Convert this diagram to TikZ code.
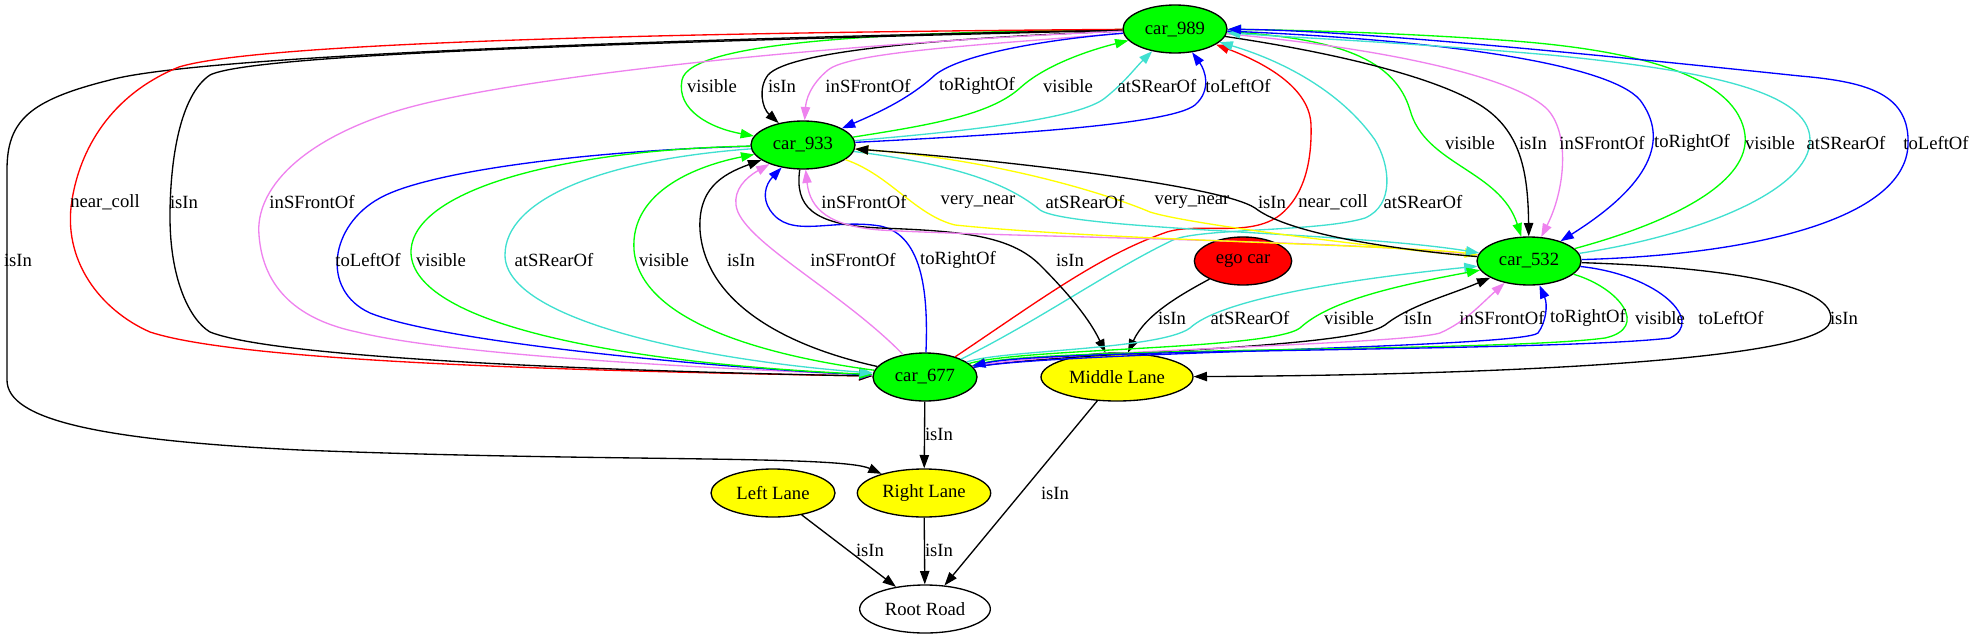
\documentclass[tikz,border=0pt]{standalone}
\usepackage{fontspec}
\setmainfont{Liberation Serif}
\usetikzlibrary{shapes.geometric,arrows.meta}

\definecolor{gvgreen}{RGB}{0,255,0}
\definecolor{gvviolet}{RGB}{238,130,238}
\definecolor{gvturq}{RGB}{64,224,208}
\definecolor{gvblue}{RGB}{0,0,255}
\definecolor{gvred}{RGB}{255,0,0}
\definecolor{gvyellow}{RGB}{255,255,0}

\tikzset{every picture/.style={line width=0.75pt}}
\tikzset{
  gvnode/.style={ellipse, draw=black, line width=1pt, minimum height=36pt, inner sep=0pt, font=\fontsize{14}{16}\selectfont},
  carnode/.style={gvnode, fill=gvgreen, minimum width=78pt},
  lanenode/.style={gvnode, fill=gvyellow},
  rel/.style={line width=1pt, -{Triangle[length=10pt,width=7pt]}},
  isInE/.style={rel, color=black},
  visE/.style={rel, color=gvgreen},
  frontE/.style={rel, color=gvviolet},
  rearE/.style={rel, color=gvturq},
  rightE/.style={rel, color=gvblue},
  leftE/.style={rel, color=gvblue},
  collE/.style={rel, color=gvred},
  nearE/.style={rel, color=gvyellow},
  lbl/.style={inner sep=0pt, font=\fontsize{14}{16}\selectfont}
}

\begin{document}
\begin{tikzpicture}[x=0.75pt,y=0.75pt,yscale=-1]
\useasboundingbox (0,0) rectangle (1976,639);

%Flowchart: Connector
\node [carnode] (c989) at (1175,29) {car\_989};
%Flowchart: Connector
\node [carnode] (c933) at (803,145) {car\_933};
%Flowchart: Connector
\node [carnode] (c532) at (1529,261) {car\_532};
%Flowchart: Connector
\node [gvnode, fill=gvred, minimum width=73pt] (ego) at (1243,261) {ego car};
%Flowchart: Connector
\node [carnode] (c677) at (925,377) {car\_677};
%Flowchart: Connector
\node [lanenode, minimum width=114pt] (mid) at (1117,377) {Middle Lane};
%Flowchart: Connector
\node [lanenode, minimum width=93pt] (lleft) at (773,493) {Left Lane};
%Flowchart: Connector
\node [lanenode, minimum width=100pt] (lright) at (924,493) {Right Lane};
%Flowchart: Connector
\node [gvnode, fill=white, minimum width=98pt] (root) at (925,609) {Root Road};

%Curve Lines
\draw [visE] (c989) .. controls (900,32) and (690,40) .. (682,80) .. controls (676,110) and (710,128) .. (c933);
%Curve Lines
\draw [isInE] (c989) .. controls (950,38) and (790,50) .. (768,75) .. controls (758,88) and (762,108) .. (c933);
%Curve Lines
\draw [frontE] (c989) .. controls (980,45) and (850,52) .. (828,70) .. controls (810,85) and (806,100) .. (c933);
%Curve Lines
\draw [rightE] (c989) .. controls (1040,40) and (960,55) .. (935,75) .. controls (910,98) and (880,112) .. (c933);
%Curve Lines
\draw [visE] (c933) .. controls (930,125) and (990,115) .. (1020,88) .. controls (1045,65) and (1090,50) .. (c989);
%Curve Lines
\draw [rearE] (c933) .. controls (980,130) and (1080,118) .. (1105,98) .. controls (1125,82) and (1135,68) .. (c989);
%Curve Lines
\draw [leftE] (c933) .. controls (1000,135) and (1170,125) .. (1195,105) .. controls (1212,90) and (1205,70) .. (c989);

%Curve Lines
\draw [visE] (c989) .. controls (1340,38) and (1395,60) .. (1410,110) .. controls (1425,165) and (1500,170) .. (c532);
%Curve Lines
\draw [isInE] (c989) .. controls (1350,55) and (1440,80) .. (1480,105) .. controls (1520,130) and (1528,170) .. (c532);
%Curve Lines
\draw [frontE] (c989) .. controls (1400,50) and (1520,80) .. (1548,110) .. controls (1570,135) and (1565,190) .. (c532);
%Curve Lines
\draw [rightE] (c989) .. controls (1450,40) and (1610,65) .. (1640,100) .. controls (1670,140) and (1650,185) .. (c532);
%Curve Lines
\draw [visE] (c532) .. controls (1680,220) and (1750,180) .. (1745,135) .. controls (1738,80) and (1650,50) .. (1500,40) .. controls (1400,33) and (1300,30) .. (c989);
%Curve Lines
\draw [rearE] (c532) .. controls (1700,235) and (1810,190) .. (1810,140) .. controls (1810,90) and (1700,70) .. (1550,55) .. controls (1400,42) and (1300,38) .. (c989);
%Curve Lines
\draw [leftE] (c532) .. controls (1750,255) and (1905,220) .. (1908,145) .. controls (1910,95) and (1870,82) .. (1800,76) .. controls (1600,55) and (1350,30) .. (c989);

%Curve Lines
\draw [collE] (c677) .. controls (1040,300) and (1100,255) .. (1167,232) .. controls (1200,222) and (1250,238) .. (1280,215) .. controls (1305,195) and (1312,160) .. (1311,125) .. controls (1310,90) and (1270,65) .. (c989);
%Curve Lines
\draw [rearE] (c677) .. controls (1040,320) and (1110,270) .. (1173,240) .. controls (1200,228) and (1320,232) .. (1365,218) .. controls (1395,205) and (1390,165) .. (1375,140) .. controls (1340,90) and (1280,60) .. (c989);

%Curve Lines
\draw [isInE] (c989) .. controls (700,38) and (200,55) .. (110,80) .. controls (30,100) and (7,120) .. (7,170) -- (7,380) .. controls (7,420) and (100,440) .. (300,450) .. controls (600,462) and (840,455) .. (lright);
%Curve Lines
\draw [collE] (c989) .. controls (600,33) and (250,45) .. (179,67) .. controls (110,95) and (80,150) .. (72,200) .. controls (62,260) and (100,310) .. (150,332) .. controls (250,365) and (650,372) .. (c677);
%Curve Lines
\draw [isInE] (c989) .. controls (600,43) and (250,55) .. (210,75) .. controls (180,95) and (170,160) .. (170,217) .. controls (170,280) and (190,320) .. (210,332) .. controls (280,360) and (650,372) .. (c677);
%Curve Lines
\draw [frontE] (c989) .. controls (800,45) and (500,80) .. (400,110) .. controls (300,140) and (255,190) .. (259,235) .. controls (263,290) and (300,320) .. (357,332) .. controls (450,355) and (700,368) .. (c677);

%Curve Lines
\draw [leftE] (c933) .. controls (600,150) and (430,170) .. (380,198) .. controls (330,225) and (320,290) .. (370,313) .. controls (450,345) and (750,370) .. (c677);
%Curve Lines
\draw [visE] (c933) .. controls (560,150) and (415,190) .. (411,250) .. controls (408,320) and (600,362) .. (c677);
%Curve Lines
\draw [rearE] (c933) .. controls (600,160) and (505,200) .. (505,255) .. controls (505,320) and (700,360) .. (c677);
%Curve Lines
\draw [visE] (c677) .. controls (760,355) and (640,320) .. (634,250) .. controls (630,190) and (700,165) .. (c933);
%Curve Lines
\draw [isInE] (c677) .. controls (780,345) and (705,300) .. (700,230) .. controls (698,190) and (720,175) .. (c933);
%Curve Lines
\draw [frontE] (c677) .. controls (840,290) and (740,240) .. (736,205) .. controls (734,190) and (745,178) .. (c933);
%Curve Lines
\draw [rightE] (c677) .. controls (928,300) and (925,235) .. (880,226) .. controls (830,218) and (790,240) .. (770,210) .. controls (762,198) and (765,185) .. (c933);

%Curve Lines
\draw [isInE] (c933) .. controls (795,205) and (810,225) .. (880,228) .. controls (960,231) and (1010,235) .. (1040,265) .. controls (1070,295) and (1090,320) .. (mid);
%Curve Lines
\draw [frontE] (c532) .. controls (1350,240) and (1000,237) .. (880,230) .. controls (830,226) and (810,210) .. (c933);
%Curve Lines
\draw [nearE] (c933) .. controls (890,175) and (915,215) .. (955,225) .. controls (1100,240) and (1400,245) .. (c532);
%Curve Lines
\draw [rearE] (c933) .. controls (960,165) and (1010,185) .. (1040,210) .. controls (1070,230) and (1350,232) .. (c532);
%Curve Lines
\draw [nearE] (c532) .. controls (1400,250) and (1190,225) .. (1150,212) .. controls (1110,195) and (1000,160) .. (c933);
%Curve Lines
\draw [isInE] (c532) .. controls (1400,250) and (1290,235) .. (1255,208) .. controls (1220,185) and (1000,160) .. (c933);

%Curve Lines
\draw [isInE] (ego) .. controls (1180,295) and (1145,315) .. (mid);

%Curve Lines
\draw [rearE] (c677) .. controls (1000,350) and (1160,350) .. (1190,328) .. controls (1220,300) and (1340,280) .. (c532);
%Curve Lines
\draw [visE] (c677) .. controls (1020,348) and (1270,350) .. (1300,328) .. controls (1330,300) and (1400,285) .. (c532);
%Curve Lines
\draw [isInE] (c677) .. controls (1050,352) and (1350,350) .. (1385,325) .. controls (1410,305) and (1450,295) .. (c532);
%Curve Lines
\draw [frontE] (c677) .. controls (1050,350) and (1400,345) .. (1440,333) .. controls (1465,322) and (1480,305) .. (c532);
%Curve Lines
\draw [rightE] (c677) .. controls (1050,352) and (1520,348) .. (1538,333) .. controls (1546,322) and (1548,305) .. (c532);
%Curve Lines
\draw [visE] (c532) .. controls (1620,288) and (1650,328) .. (1605,338) .. controls (1500,352) and (1050,347) .. (c677);
%Curve Lines
\draw [leftE] (c532) .. controls (1660,275) and (1705,322) .. (1670,338) .. controls (1550,352) and (1050,348) .. (c677);
%Curve Lines
\draw [isInE] (c532) .. controls (1750,268) and (1840,290) .. (1830,322) .. controls (1820,360) and (1500,375) .. (mid);

%Straight Lines
\draw [isInE] (c677) -- (lright);
\draw [isInE] (mid) -- (root);
\draw [isInE] (lleft) -- (root);
\draw [isInE] (lright) -- (root);

% Text Node
\node [lbl] (t01) at (712,86) {visible};
% Text Node
\node [lbl] (t02) at (782,86) {isIn};
% Text Node
\node [lbl] (t03) at (868,86) {inSFrontOf};
% Text Node
\node [lbl] (t04) at (977,86) {toRightOf};
% Text Node
\node [lbl] (t05) at (1068,86) {visible};
% Text Node
\node [lbl] (t06) at (1157,86) {atSRearOf};
% Text Node
\node [lbl] (t07) at (1238,86) {toLeftOf};
% Text Node
\node [lbl] (t08) at (1470,143) {visible};
% Text Node
\node [lbl] (t09) at (1533,143) {isIn};
% Text Node
\node [lbl] (t10) at (1602,143) {inSFrontOf};
% Text Node
\node [lbl] (t11) at (1692,143) {toRightOf};
% Text Node
\node [lbl] (t12) at (1770,143) {visible};
% Text Node
\node [lbl] (t13) at (1846,143) {atSRearOf};
% Text Node
\node [lbl] (t14) at (1936,143) {toLeftOf};
% Text Node
\node [lbl] (t15) at (105,202) {near\_coll};
% Text Node
\node [lbl] (t16) at (184,202) {isIn};
% Text Node
\node [lbl] (t17) at (312,202) {inSFrontOf};
% Text Node
\node [lbl] (t18) at (864,202) {inSFrontOf};
% Text Node
\node [lbl] (t19) at (978,202) {very\_near};
% Text Node
\node [lbl] (t20) at (1085,202) {atSRearOf};
% Text Node
\node [lbl] (t21) at (1192,202) {very\_near};
% Text Node
\node [lbl] (t22) at (1272,202) {isIn};
% Text Node
\node [lbl] (t23) at (1333,202) {near\_coll};
% Text Node
\node [lbl] (t24) at (1423,202) {atSRearOf};
% Text Node
\node [lbl] (t25) at (18,260) {isIn};
% Text Node
\node [lbl] (t26) at (368,260) {toLeftOf};
% Text Node
\node [lbl] (t27) at (441,260) {visible};
% Text Node
\node [lbl] (t28) at (554,260) {atSRearOf};
% Text Node
\node [lbl] (t29) at (664,260) {visible};
% Text Node
\node [lbl] (t30) at (741,260) {isIn};
% Text Node
\node [lbl] (t31) at (853,260) {inSFrontOf};
% Text Node
\node [lbl] (t32) at (958,260) {toRightOf};
% Text Node
\node [lbl] (t33) at (1070,260) {isIn};
% Text Node
\node [lbl] (t34) at (1172,318) {isIn};
% Text Node
\node [lbl] (t35) at (1250,318) {atSRearOf};
% Text Node
\node [lbl] (t36) at (1349,318) {visible};
% Text Node
\node [lbl] (t37) at (1418,318) {isIn};
% Text Node
\node [lbl] (t38) at (1502,318) {inSFrontOf};
% Text Node
\node [lbl] (t39) at (1588,318) {toRightOf};
% Text Node
\node [lbl] (t40) at (1660,318) {visible};
% Text Node
\node [lbl] (t41) at (1731,318) {toLeftOf};
% Text Node
\node [lbl] (t42) at (1844,318) {isIn};
% Text Node
\node [lbl] (t43) at (939,434) {isIn};
% Text Node
\node [lbl] (t44) at (1055,493) {isIn};
% Text Node
\node [lbl] (t45) at (870,550) {isIn};
% Text Node
\node [lbl] (t46) at (939,550) {isIn};
\end{tikzpicture}
\end{document}
